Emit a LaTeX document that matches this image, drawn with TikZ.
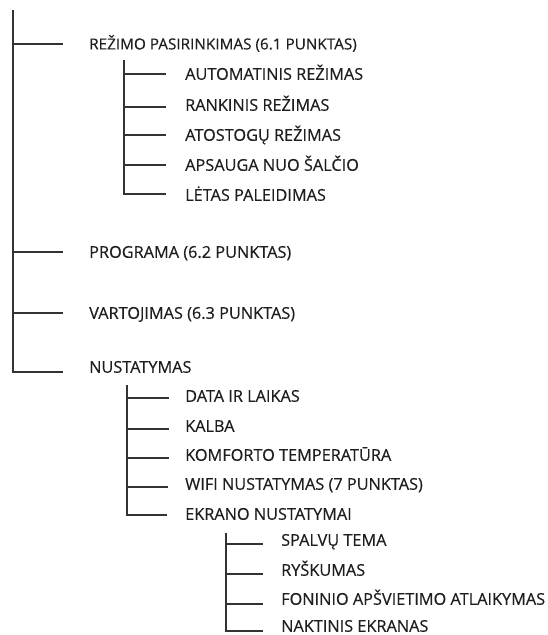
\documentclass[tikz,border=0pt]{standalone}
\usepackage{fontspec}
\setmainfont{Open Sans}[FakeBold=0.4]
\definecolor{ink}{HTML}{1E1E1E}
\definecolor{wire}{HTML}{333333}
\tikzset{
  lbl/.style={anchor=base west,inner sep=0pt,yshift=-5.8pt,text=ink,font=\fontsize{16.3}{19}\selectfont},
  lblsmall/.style={lbl,yshift=0.35pt,font=\fontsize{15.3}{18}\selectfont},
  br/.style={draw=wire,line width=1.4pt},
}
\begin{document}
\begin{tikzpicture}[x=1pt,y=-1pt]
\useasboundingbox (0,0) rectangle (548,635);
% main trunk
\coordinate (mt) at (13,10);
\coordinate (m1) at (13,44);  \coordinate (m1e) at (63,44);
\coordinate (m2) at (13,252); \coordinate (m2e) at (63,252);
\coordinate (m3) at (13,313); \coordinate (m3e) at (63,313);
\coordinate (m4) at (13,372); \coordinate (m4e) at (63,372);
\node[lblsmall] (n1) at (89,44) {REŽIMO PASIRINKIMAS (6.1 PUNKTAS)};
\node[lbl] (n2) at (89,252) {PROGRAMA (6.2 PUNKTAS)};
\node[lbl] (n3) at (89,313) {VARTOJIMAS (6.3 PUNKTAS)};
\node[lbl] (n4) at (89,367) {NUSTATYMAS};
\draw[br] (mt) -- (m4) -- (m4e);
\draw[br] (m1) -- (m1e);
\draw[br] (m2) -- (m2e);
\draw[br] (m3) -- (m3e);
% subtree 1
\coordinate (at) at (124,60);
\coordinate (a1) at (124,74);  \coordinate (a1e) at (166,74);
\coordinate (a2) at (124,107); \coordinate (a2e) at (166,107);
\coordinate (a3) at (124,135); \coordinate (a3e) at (166,135);
\coordinate (a4) at (124,165); \coordinate (a4e) at (166,165);
\coordinate (a5) at (124,194); \coordinate (a5e) at (166,194);
\node[lbl] (na1) at (185,74) {AUTOMATINIS REŽIMAS};
\node[lbl] (na2) at (185,105) {RANKINIS REŽIMAS};
\node[lbl] (na3) at (185,135) {ATOSTOGŲ REŽIMAS};
\node[lbl] (na4) at (185,165) {APSAUGA NUO ŠALČIO};
\node[lbl] (na5) at (185,195) {LĖTAS PALEIDIMAS};
\draw[br] (at) -- (a5) -- (a5e);
\foreach \i in {1,2,3,4}{\draw[br] (a\i) -- (a\i e);}
% subtree 2
\coordinate (bt) at (127,385);
\coordinate (b1) at (127,398); \coordinate (b1e) at (169,398);
\coordinate (b2) at (127,429); \coordinate (b2e) at (169,429);
\coordinate (b3) at (127,458); \coordinate (b3e) at (169,458);
\coordinate (b4) at (127,487); \coordinate (b4e) at (168,487);
\coordinate (b5) at (127,515); \coordinate (b5e) at (167,515);
\node[lbl] (nb1) at (185,396) {DATA IR LAIKAS};
\node[lbl] (nb2) at (185,426) {KALBA};
\node[lbl] (nb3) at (185,455) {KOMFORTO TEMPERATŪRA};
\node[lbl] (nb4) at (185,484) {WIFI NUSTATYMAS (7 PUNKTAS)};
\node[lbl] (nb5) at (185,514) {EKRANO NUSTATYMAI};
\draw[br] (bt) -- (b5) -- (b5e);
\foreach \i in {1,2,3,4}{\draw[br] (b\i) -- (b\i e);}
% subtree 3
\coordinate (ct) at (226,533);
\coordinate (c1) at (226,544); \coordinate (c1e) at (263,544);
\coordinate (c2) at (226,574); \coordinate (c2e) at (263,574);
\coordinate (c3) at (226,604); \coordinate (c3e) at (263,604);
\coordinate (c4) at (226,631); \coordinate (c4e) at (263,631);
\node[lbl] (nc1) at (281,540) {SPALVŲ TEMA};
\node[lbl] (nc2) at (281,570) {RYŠKUMAS};
\node[lbl] (nc3) at (281,599) {FONINIO APŠVIETIMO ATLAIKYMAS};
\node[lbl] (nc4) at (281,626) {NAKTINIS EKRANAS};
\draw[br] (ct) -- (c4) -- (c4e);
\foreach \i in {1,2,3}{\draw[br] (c\i) -- (c\i e);}
\end{tikzpicture}
\end{document}
